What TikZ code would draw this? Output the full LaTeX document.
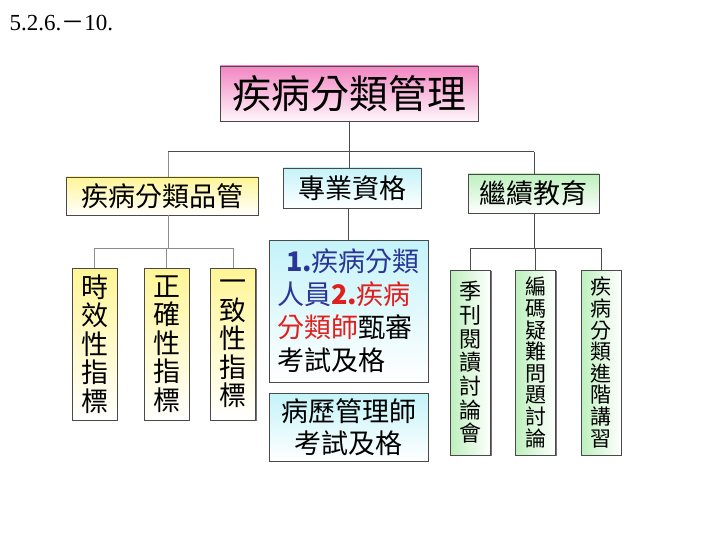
\documentclass[tikz,border=0pt]{standalone}
\usepackage{fontspec}
\setmainfont{Liberation Serif}
\newfontfamily\cjk{Noto Sans CJK TC}
\usepackage{xcolor}
\usetikzlibrary{shadows}
\definecolor{pinktop}{HTML}{F286C2}
\definecolor{yeltop}{HTML}{FFF596}
\definecolor{cyantop}{HTML}{C4F3F9}
\definecolor{greentop}{HTML}{BDF0BD}
\definecolor{edge}{HTML}{4A4A4A}
\definecolor{numblue}{HTML}{2A3596}
\definecolor{numred}{HTML}{E0201E}
\tikzset{
  base/.style   = {draw=edge, line width=0.8pt, inner sep=0pt, align=center,
                   drop shadow={shadow xshift=1.3pt, shadow yshift=-1.3pt, fill=black!55, opacity=1}},
  titlebox/.style = {base, top color=pinktop, bottom color=pinktop!8,
                   font=\cjk\fontsize{39}{41}\selectfont},
  hbox/.style   = {base, font=\cjk\fontsize{27}{30}\selectfont},
  ybox/.style   = {top color=yeltop, bottom color=white},
  cbox/.style   = {top color=cyantop, bottom color=white},
  gbox/.style   = {top color=greentop, bottom color=white},
  vybox/.style  = {base, top color=yeltop, bottom color=white, minimum width=45pt,
                   minimum height=152pt, font=\cjk\fontsize{27}{28.5}\selectfont},
  vgbox/.style  = {base, left color=greentop, right color=white, minimum width=40pt,
                   minimum height=185pt, font=\cjk\fontsize{21}{21.6}\selectfont},
  conn/.style   = {draw=black!70, line width=1pt},
  lconn/.style  = {draw=black!45, line width=0.7pt},
}
\begin{document}
\begin{tikzpicture}[x=1pt, y=-1pt]
  \fill[white] (0,0) rectangle (720,540);
  \useasboundingbox (0,0) rectangle (720,540);
  \node[anchor=base west, font=\fontsize{23}{26}\selectfont] (ref) at (6,31) {5.2.6.{\cjk －}10.};
  \node[titlebox, minimum width=258pt, minimum height=55pt] (title) at (349,93.5) {疾病分類管理};
  \node[hbox, ybox, minimum width=192pt, minimum height=38pt] (qc) at (162,196) {疾病分類品管};
  \node[hbox, cbox, minimum width=138pt, minimum height=40pt] (cert) at (352,188) {專業資格};
  \node[hbox, gbox, minimum width=131pt, minimum height=39pt] (edu) at (533.5,193.5) {繼續教育};
  \node[vybox] (time) at (94.5,344) {時\\效\\性\\指\\標};
  \node[vybox] (acc) at (166.5,344) {正\\確\\性\\指\\標};
  \node[vybox] (cons) at (233,344) {一\\致\\性\\指\\標};
  \node[base, cbox, minimum width=159pt, minimum height=142pt, text width=143pt, align=left,
        font=\cjk\fontsize{27}{33}\selectfont] (exam) at (348.5,311)
        {\hspace*{9pt}{\color{numblue}\textbf{1.}疾病分類}\\{\color{numblue}人員}{\color{numred}\textbf{2.}疾病}\\{\color{numred}分類師}甄審\\考試及格};
  \node[base, cbox, minimum width=159pt, minimum height=68pt,
        font=\cjk\fontsize{27}{32}\selectfont] (lic) at (348.5,427) {病歷管理師\\考試及格};
  \node[vgbox, font=\cjk\fontsize{22}{23.7}\selectfont] (rev) at (470.5,362.5) {季\\刊\\閱\\讀\\討\\論\\會};
  \node[vgbox] (code) at (535.5,362.5) {編\\碼\\疑\\難\\問\\題\\討\\論};
  \node[vgbox] (adv) at (601,362.5) {疾\\病\\分\\類\\進\\階\\講\\習};
  \coordinate (jL) at (168,152); \coordinate (jR) at (534,152);
  \coordinate (kL) at (168,248); \coordinate (kR) at (534,248);
  \draw[conn] (title.south) -- (title.south |- cert.north);
  \draw[conn] (jL) -- (jR); \draw[lconn] (jL) -- (jL |- qc.north);
  \draw[conn] (jR) -- (jR |- edu.north);
  \draw[lconn] (jL |- qc.south) -- (kL);
  \draw[lconn] (time.north |- kL) -- (cons.north |- kL);
  \foreach \n in {time,acc,cons} \draw[lconn] (\n.north |- kL) -- (\n.north);
  \draw[conn] (exam.north |- cert.south) -- (exam.north);
  \draw[conn] (jR |- edu.south) -- (kR);
  \draw[conn] (rev.north |- kR) -- (adv.north |- kR);
  \foreach \n in {rev,code,adv} \draw[conn] (\n.north |- kR) -- (\n.north);
\end{tikzpicture}
\end{document}
